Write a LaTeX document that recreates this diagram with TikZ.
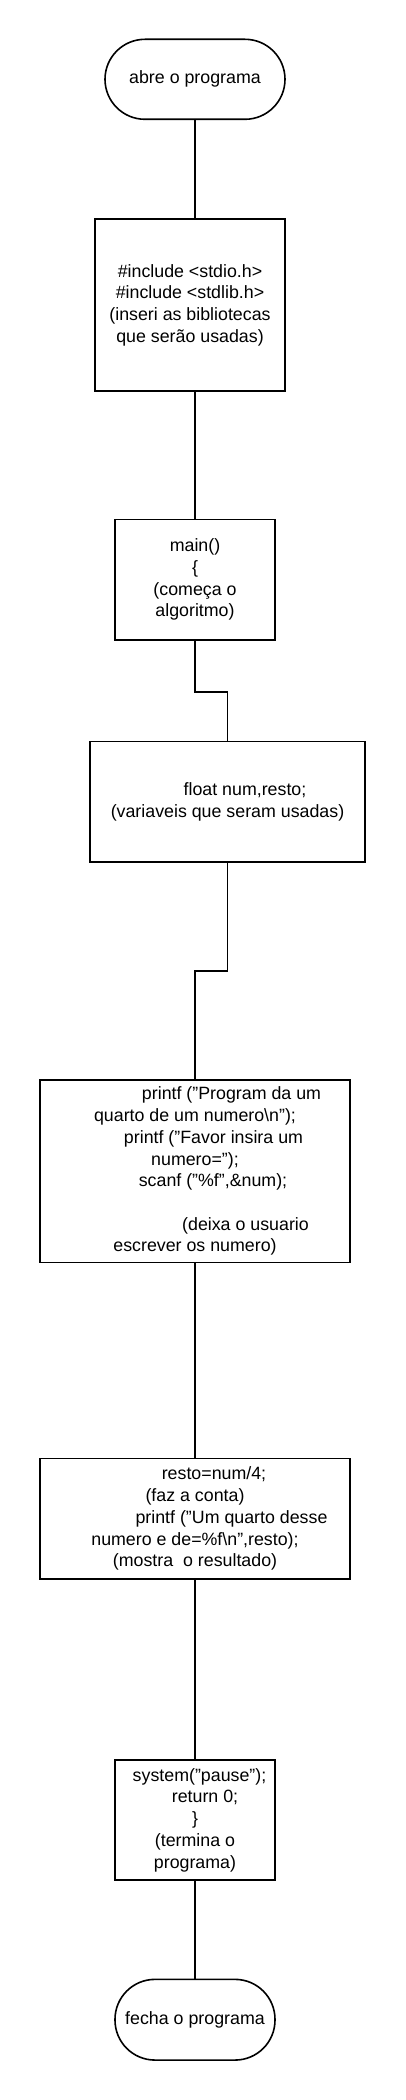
\documentclass[tikz,border=0pt]{standalone}
\usepackage{fontspec}
\setmainfont{Liberation Sans}
\begin{document}
\begin{tikzpicture}[x=1pt,y=-1pt,
  every node/.style={font=\fontsize{17.8}{21.7}\selectfont, align=center, inner sep=0pt},
  proc/.style={draw, line width=1.6pt, rectangle},
  term/.style={draw, line width=1.6pt, rectangle, rounded corners=40pt},
  conn/.style={line width=1.6pt}]
\fill[white] (0,0) rectangle (405,2100);
\useasboundingbox (0,0) rectangle (405,2100);

\node[term, minimum width=180pt, minimum height=80pt] (start) at (195,79.3) {abre o programa};
\node[proc, minimum width=190pt, minimum height=171.4pt] (b2) at (190,305)
  {\#include <stdio.h>\\ \#include <stdlib.h>\\ (inseri as bibliotecas\\ que serão usadas)};
\node[proc, minimum width=160pt, minimum height=120.7pt] (b3) at (195,579.7)
  {main()\\ \{\\ (começa o\\ algoritmo)};
\node[proc, minimum width=275pt, minimum height=120.3pt] (b4) at (227.5,801.8)
  {\hspace*{35pt}float num,resto;\\ (variaveis que seram usadas)};
\node[proc, minimum width=310pt, minimum height=182.7pt] (b5) at (195,1171.3)
  {\hspace*{73pt}printf ("Program da um\\
   quarto de um numero\textbackslash n");\\
   \hspace*{37pt}printf ("Favor insira um\\
   numero=");\\
   \hspace*{36pt}scanf ("\%f",\&num);\\
   \mbox{}\\
   \hspace*{101pt}(deixa o usuario\\
   escrever os numero)};
\node[proc, minimum width=310pt, minimum height=120.7pt] (b6) at (195,1518.7)
  {\hspace*{38pt}resto=num/4;\\
   (faz a conta)\\
   \hspace*{73pt}printf ("Um quarto desse\\
   numero e de=\%f\textbackslash n",resto);\\
   (mostra\ \ o resultado)};
\node[proc, minimum width=160pt, minimum height=120pt] (b7) at (195,1820)
  {\hspace*{9pt}system("pause");\\ \hspace*{20pt}return 0;\\ \}\\ (termina o\\ programa)};
\node[term, minimum width=160pt, minimum height=80.7pt] (end) at (195,2019.7) {fecha o programa};

\draw[conn] (start.south) -- (start.south |- b2.north);
\draw[conn] (b3.north |- b2.south) -- (b3.north);
\draw[conn] (b3.south) -- ++(0,51) -| (b4.north);
\draw[conn] (b4.south) -- ++(0,108) -| (b5.north);
\draw[conn] (b5.south) -- (b6.north);
\draw[conn] (b6.south) -- (b7.north);
\draw[conn] (b7.south) -- (end.north);
\end{tikzpicture}
\end{document}
